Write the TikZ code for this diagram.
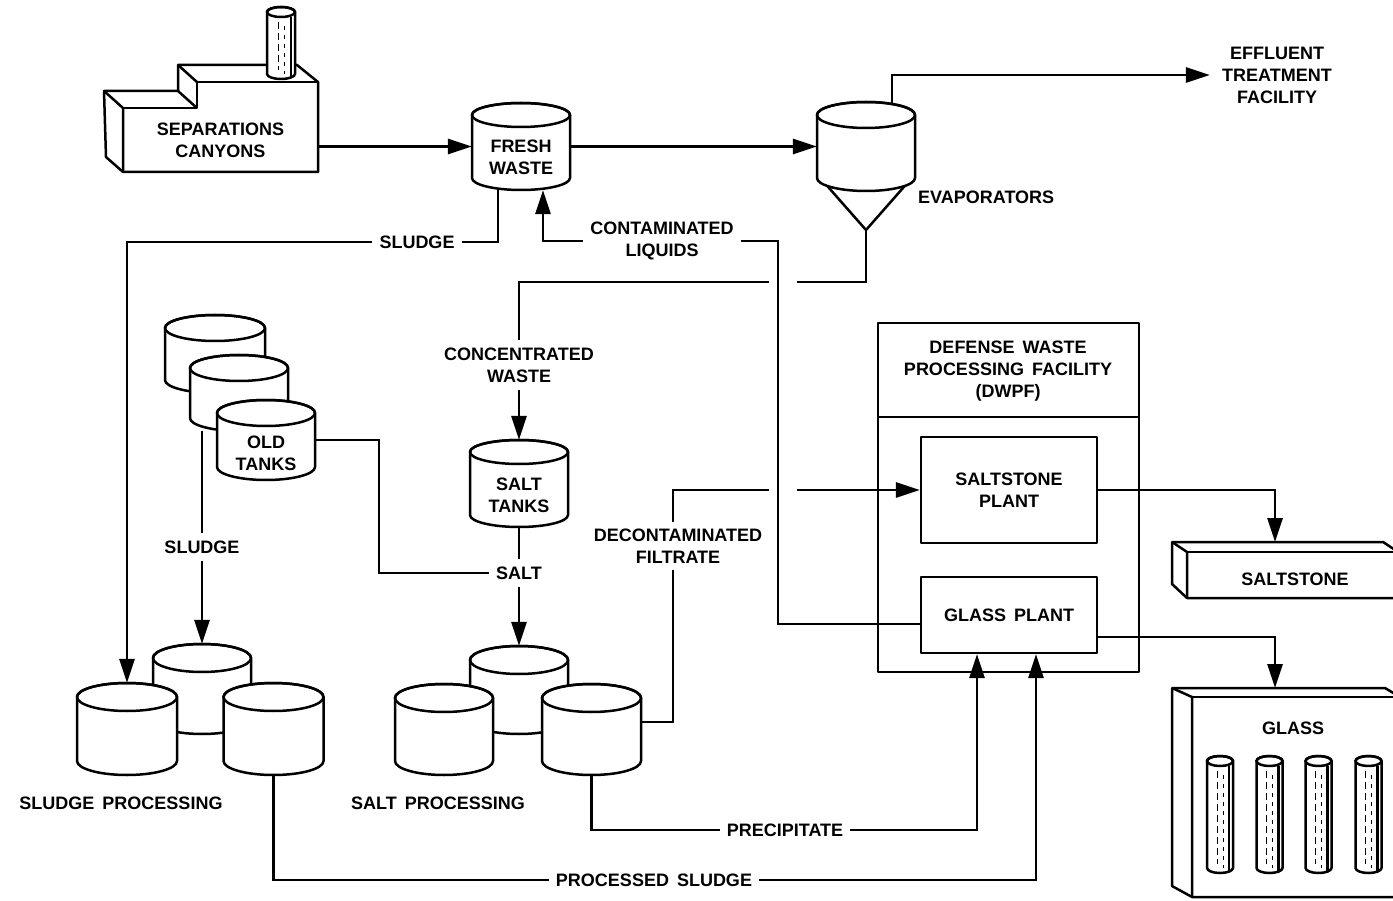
\documentclass[tikz,border=0pt]{standalone}
\usepackage{fontspec}
\setmainfont{Liberation Sans}[WordSpace=1.6]
\usetikzlibrary{arrows.meta}

% upright cylinder: name, centre x, top ellipse y, bottom ellipse y, x radius, y radius
\newcommand\drawtank[6]{%
  \path[box] ({#2-#5},#3) -- ({#2-#5},#4)
     arc[start angle=180,end angle=360,x radius=#5pt,y radius=#6pt]
     -- ({#2+#5},#3)
     arc[start angle=0,end angle=180,x radius=#5pt,y radius=#6pt] -- cycle;
  \draw[outline] (#2,#3) ellipse[x radius=#5pt,y radius=#6pt];
  \node[inner sep=0pt,minimum width={2*#5*1pt},minimum height={(#4-#3+2*#6)*1pt}]
     (#1) at (#2,{(#3+#4)/2}) {};
}
% glass canister / chimney with streaked surface
\newcommand\drawrod[6]{%
  \drawtank{#1}{#2}{#3}{#4}{#5}{#6}
  \draw[line width=2.8pt] ({#2+#5-4},{#3+#6}) -- ({#2+#5-4},{#4+#6-1});
  \draw[line width=0.9pt,dash pattern=on 7pt off 4pt] ({#2-3},{#3+10}) -- ({#2-3},{#4-4});
  \draw[line width=0.9pt,dash pattern=on 4pt off 5pt] ({#2+3},{#3+14}) -- ({#2+3},{#4});
}

\begin{document}
\begin{tikzpicture}[x=1pt,y=-1pt,
  flow/.style={line width=2.8pt,line join=miter},
  arr/.style={flow,-{Triangle[length=24pt,width=15pt]}},
  outline/.style={line width=2.5pt,line join=round},
  box/.style={outline,draw=black,fill=white},
  lbl/.style={font=\fontsize{18}{22}\selectfont\bfseries,align=center,inner sep=7pt},
  plant/.style={box,line width=2.2pt,font=\fontsize{18}{22}\selectfont\bfseries,align=center,inner sep=0pt},
]
\useasboundingbox (0,0) rectangle (1393,901);

% ---------------- separations canyons building ----------------
\path[box] (104,91) -- (178,91) -- (178,65) -- (297,65) -- (318,82)
  -- (318,172) -- (123,172) -- (106,157) -- cycle;
\draw[outline] (104,91) -- (123,108) -- (123,172);
\draw[outline] (123,108) -- (197,108) -- (197,82) -- (318,82);
\draw[outline] (178,65) -- (197,82);
\draw[outline] (178,91) -- (197,108);
\drawrod{stack}{281}{12}{74}{14}{5}
\node[lbl,inner sep=0pt,minimum width=195pt,minimum height=64pt] (canyon) at (220.5,140)
  {SEPARATIONS\\CANYONS};

% ---------------- fresh waste tank and evaporator ----------------
\drawtank{fw}{521}{115}{178}{49}{12}
\node[lbl,inner sep=0pt] (fwt) at (521,157) {FRESH\\WASTE};

\path[box] (822,180) -- (866,230) -- (910,180) -- cycle;
\drawtank{ev}{866}{115}{178}{49}{13}
\coordinate (apex) at (866,230);
\coordinate (evtop) at (892,104);
\node[lbl,anchor=west,inner sep=0pt] (evl) at (918,197) {EVAPORATORS};
\node[lbl,inner sep=0pt] (etf) at (1277,75) {EFFLUENT\\TREATMENT\\FACILITY};

\draw[arr] (canyon.east |- fw.west) -- (fw.west);
\draw[arr] (fw.east) -- (ev.west);
\draw[arr] (evtop) |- ([xshift=-12pt]etf.west);

% ---------------- old tanks ----------------
\drawtank{ot1}{215}{328}{380}{50}{13}
\drawtank{ot2}{239}{368}{418}{49}{13}
\drawtank{ot3}{266}{413}{467}{49}{13}
\node[lbl,inner sep=0pt] (ott) at (266,453) {OLD\\TANKS};

% ---------------- salt tanks ----------------
\drawtank{st}{519}{452}{515}{49}{12}
\node[lbl,inner sep=0pt] (stt) at (519,495) {SALT\\TANKS};

% ---------------- sludge processing ----------------
\drawtank{sp2}{202}{658}{720}{49}{14}
\drawtank{sp1}{127}{697}{761}{50}{14}
\drawtank{sp3}{273.5}{697}{761}{50}{14}
\node[lbl,inner sep=0pt] (spl) at (121,803) {SLUDGE PROCESSING};

% ---------------- salt processing ----------------
\drawtank{ss2}{519}{660}{720}{49}{14}
\drawtank{ss1}{444}{698}{761}{49}{14}
\drawtank{ss3}{591.5}{698}{761}{49.5}{14}
\node[lbl,inner sep=0pt] (sal) at (438,803) {SALT PROCESSING};

% ---------------- DWPF ----------------
\node[plant,minimum width=261pt,minimum height=349pt] (dwpf) at (1008.5,497.5) {};
\draw[line width=2.2pt] (878,417) -- (1139,417);
\node[lbl,inner sep=0pt] (dwpft) at (1008,371)
  {DEFENSE WASTE\\PROCESSING FACILITY\\(DWPF)};
\node[plant,minimum width=176pt,minimum height=106pt] (spp) at (1009,490)
  {SALTSTONE\\PLANT};
\node[plant,minimum width=176pt,minimum height=76pt] (gp) at (1009,615)
  {GLASS PLANT};

% ---------------- saltstone block ----------------
\path[box] (1172,542) -- (1383,542) -- (1398,552) -- (1398,598) -- (1187,598)
  -- (1172,584) -- cycle;
\draw[outline] (1172,542) -- (1187,552) -- (1187,598);
\draw[outline] (1187,552) -- (1398,552);
\node[lbl,inner sep=0pt] (slab) at (1295,579) {SALTSTONE};
\coordinate (slabin) at (1275,542);

% ---------------- glass storage ----------------
\path[box] (1172,688) -- (1385,688) -- (1400,697) -- (1400,897) -- (1192,897)
  -- (1172,886) -- cycle;
\draw[outline] (1172,688) -- (1192,697) -- (1192,897);
\draw[outline] (1192,697) -- (1400,697);
\node[lbl,inner sep=0pt] (glass) at (1293,728) {GLASS};
\coordinate (glassin) at (1275,688);
\drawrod{rodA}{1220}{761}{868}{13}{5}
\drawrod{rodB}{1269.5}{761}{868}{13}{5}
\drawrod{rodC}{1318.5}{761}{868}{13}{5}
\drawrod{rodD}{1368.5}{761}{868}{13}{5}

% ---------------- flow labels ----------------
\node[lbl] (sl1) at (417,242) {SLUDGE};
\node[lbl] (cl) at (662,241) {CONTAMINATED\\LIQUIDS};
\node[lbl] (cw) at (519,365) {CONCENTRATED\\WASTE};
\node[lbl] (sl2) at (202,547) {SLUDGE};
\node[lbl] (saltl) at (519,573) {SALT};
\node[lbl] (df) at (678,546) {DECONTAMINATED\\FILTRATE};
\node[lbl] (pl) at (785,830) {PRECIPITATE};
\node[lbl] (psl) at (654,880) {PROCESSED SLUDGE};

\coordinate (ojog) at (379,0);
\coordinate (bend) at (778,624);
\coordinate (dfx) at (673,0);
\coordinate (xa) at (797,0);
\coordinate (xb) at (769,0);

% ---------------- connectors ----------------
% fresh waste sludge to sludge processing
\draw[flow] ([xshift=-23pt]fw.south) |- (sl1.east);
\draw[arr] (sl1.west) -| (sp1.north);
% contaminated liquids returned from the glass plant
\draw[arr] (cl.west) -| ([xshift=22pt]fw.south);
\draw[flow] (cl.east) -| (bend) -- (bend -| gp.west);
% evaporator bottoms to the salt tanks (broken where it crosses)
\draw[flow] (apex) |- (xa |- 0,282);
\draw[flow] (xb |- 0,282) -| (cw.north);
\draw[arr] (cw.south) -- (st.north);
% salt tanks and old tanks to salt processing
\draw[flow] (st.south) -- (saltl.north);
\draw[arr] (saltl.south) -- (ss2.north);
\draw[flow] (ot3.east) -| (saltl.west -| ojog) -- (saltl.west);
% old tank sludge
\draw[flow] ([xshift=-37pt]ot2.south) -- (sl2.north);
\draw[arr] (sl2.south) -- (sp2.north);
% decontaminated filtrate to the saltstone plant (broken where it crosses)
\draw[flow] (ss3.east |- 0,722) -| (df.south -| dfx);
\draw[flow] (df.north -| dfx) |- (xb |- spp.west);
\draw[arr] (xa |- spp.west) -- (spp.west);
% precipitate and processed sludge to the glass plant
\draw[flow] (ss3.south) |- (pl.west);
\draw[arr] (pl.east) -| ([xshift=-32pt]gp.south);
\draw[flow] (sp3.south) |- (psl.west);
\draw[arr] (psl.east) -| ([xshift=27pt]gp.south);
% DWPF products
\draw[arr] (spp.east) -| (slabin);
\draw[arr] ([yshift=-22pt]gp.east) -| (glassin);
\end{tikzpicture}
\end{document}
